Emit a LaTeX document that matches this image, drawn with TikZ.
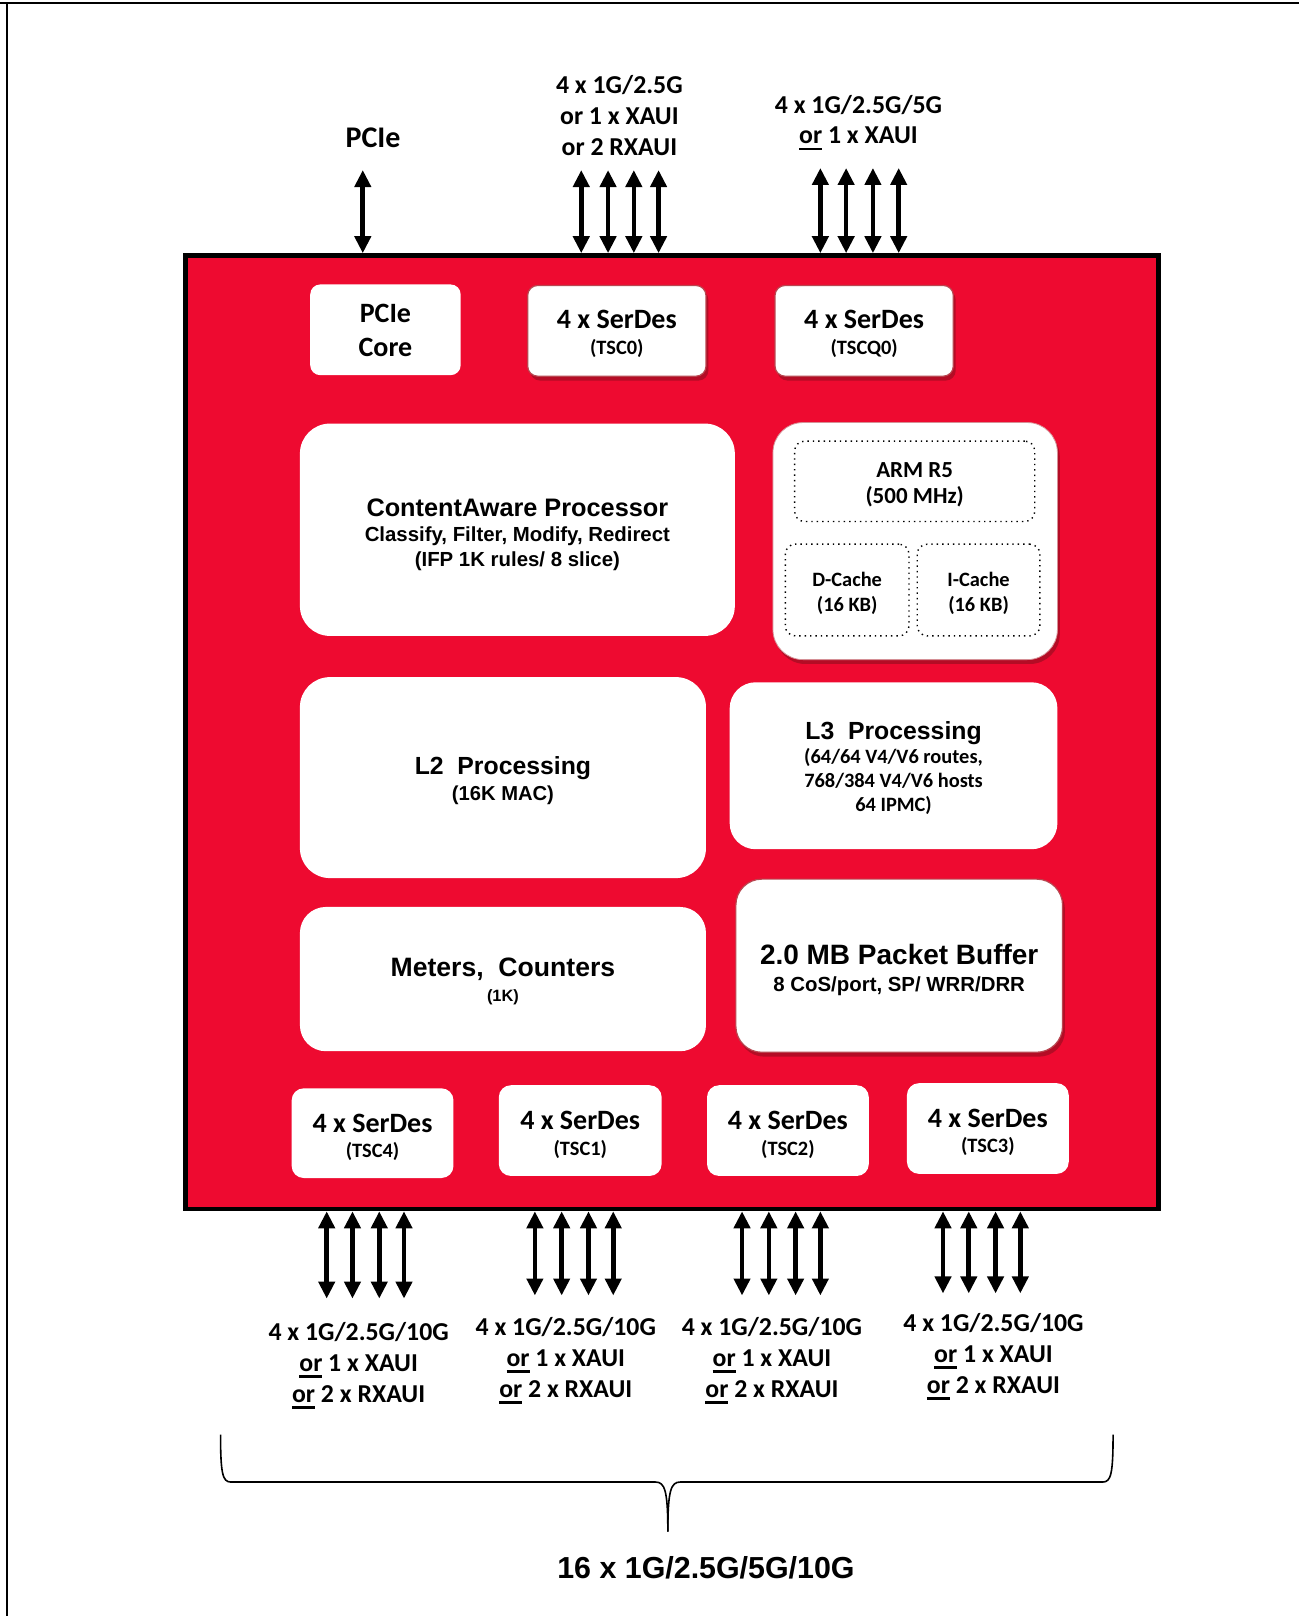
\documentclass[tikz,border=0pt]{standalone}
\usepackage{fontspec}
\setmainfont{Carlito}
\newfontfamily\arl{Liberation Sans}
\usetikzlibrary{arrows.meta,shadows}
\definecolor{chipred}{RGB}{238,10,48}
\definecolor{shadowred}{RGB}{110,15,25}
\definecolor{edgered}{RGB}{185,70,80}
\newcommand\setfs[2]{\fontsize{#1}{#2}\selectfont}
% underlined "or" with a heavier rule than \underline gives
\newcommand\orul{\leavevmode\setbox0\hbox{or}\rlap{\rule[-3.2pt]{\wd0}{1.2pt}}\box0}
% first line of a block with extra room above it, to sit the text a bit lower
\newcommand\dn[2][3pt]{\raisebox{0pt}[\dimexpr\height+#1\relax]{#2}}

\begin{document}
\begin{tikzpicture}[x=0.5155pt,y=-0.5155pt,
  sz/.style 2 args={minimum width=#1*0.5155pt, minimum height=#2*0.5155pt},
  wbox/.style={fill=white, draw=none, rounded corners=#1, inner sep=0pt, align=center},
  wbox/.default=5pt,
  shbox/.style={wbox=#1, draw=edgered, line width=0.6pt,
    drop shadow={shadow xshift=1.2pt, shadow yshift=-2.2pt, fill=shadowred, opacity=0.45}},
  shbox/.default=5pt,
  dotbox/.style={fill=white, draw=black, dotted, line width=0.7pt, rounded corners=5pt,
    inner sep=0pt, align=center},
  lbl/.style={align=center, inner sep=0pt, font={\bfseries\setfs{12.9}{15.5}}},
  serdes/.style={font={\bfseries\setfs{10.2}{12.8}}},
  conn/.style={line width=2.3pt,
    {Triangle[width=8pt,length=8.5pt]}-{Triangle[width=8pt,length=8.5pt]}},
]
\useasboundingbox (0,0) rectangle (1260,1568);
\fill[white] (0,0) rectangle (1260,1568);

% page frame (top and left edges only)
\draw[line width=1.1pt] (0,3) -- (1260,3);
\draw[line width=1.1pt] (7,3) -- (7,1568);

% chip outline
\node[draw=black, line width=2.4pt, fill=chipred, inner sep=0pt, sz={944}{925}] (chip) at (652,710.5) {};

% top row blocks
\node[wbox=5pt, sz={146}{88}, font={\bfseries\setfs{14}{17}}] (pciecore) at (374,320) {\dn[1pt]{PCIe}\\Core};
\node[shbox, sz={173}{88}, serdes] (tsc0) at (598.5,321) {\dn{\setfs{14}{15}4 x SerDes}\\(TSC0)};
\node[shbox, sz={173}{88}, serdes] (tscq0) at (838.5,321) {\dn{\setfs{14}{15}4 x SerDes}\\(TSCQ0)};

% ContentAware processor
\node[wbox=15pt, sz={422}{206}, font={\arl\bfseries\setfs{10.2}{12.4}}] (cap) at (502,514)
  {\dn[5pt]{\setfs{12.65}{14}ContentAware Processor}\\Classify, Filter, Modify, Redirect\\(IFP 1K rules/ 8 slice)};

% ARM subsystem
\node[shbox=15pt, sz={276}{230}, draw=edgered!60, line width=0.4pt] (arm) at (888,525) {};
\node[dotbox, sz={233}{78}, font={\bfseries\setfs{11.5}{13.4}}] (armcore) at (887.5,467) {\dn[3.5pt]{ARM R5}\\(500 MHz)};
\node[dotbox, sz={120}{89}, font={\bfseries\setfs{10.2}{12.4}}] (dcache) at (822,572.5) {\dn{D-Cache}\\(16 KB)};
\node[dotbox, sz={119}{89}, font={\bfseries\setfs{10.2}{12.4}}] (icache) at (949.5,572.5) {\dn{I-Cache}\\(16 KB)};

% forwarding blocks
\node[wbox=15pt, sz={394}{195}, font={\arl\bfseries\setfs{10.1}{12.6}}] (l2) at (488,754.5)
  {\dn{\setfs{12.4}{14}L2\ \ Processing}\\(16K MAC)};
\node[wbox=13pt, sz={318}{162}, font={\bfseries\setfs{10.2}{11.9}}] (l3) at (867,743)
  {\dn[2.5pt]{\arl\setfs{12.4}{14}L3\ \ Processing}\\[0.2pt](64/64 V4/V6 routes,\\768/384 V4/V6 hosts\\64 IPMC)};
\node[wbox=13pt, sz={394}{140}, font={\arl\bfseries\setfs{8.2}{12.3}}] (meters) at (488,950)
  {\dn[2.5pt]{\setfs{13.3}{14}Meters,\ \ Counters}\\(1K)};
\node[shbox=13pt, sz={317}{168}, font={\arl\bfseries\setfs{10.2}{13.6}}] (buffer) at (872.5,937)
  {\dn[4.5pt]{\setfs{14}{15}2.0 MB Packet Buffer}\\8 CoS/port, SP/ WRR/DRR};

% bottom SerDes blocks
\node[wbox=6pt, sz={157}{87}, serdes] (tsc4) at (361.5,1099.5) {\dn[4pt]{\setfs{14}{15}4 x SerDes}\\(TSC4)};
\node[wbox=6pt, sz={158}{88}, serdes] (tsc1) at (563,1097) {\dn[4pt]{\setfs{14}{15}4 x SerDes}\\(TSC1)};
\node[wbox=6pt, sz={157}{88}, serdes] (tsc2) at (764.5,1097) {\dn[4pt]{\setfs{14}{15}4 x SerDes}\\(TSC2)};
\node[wbox=6pt, sz={157}{88}, serdes] (tsc3) at (958.5,1095) {\dn[4pt]{\setfs{14}{15}4 x SerDes}\\(TSC3)};

% top interfaces
\coordinate (pcieend) at (352,165);
\draw[conn] (pcieend) -- (pcieend |- chip.north);
\foreach \x [count=\i] in {564,590,615,639} {
  \coordinate (ta\i) at (\x,165);
  \draw[conn] (ta\i) -- (ta\i |- chip.north);
}
\foreach \x [count=\i] in {796,821,847,872} {
  \coordinate (tb\i) at (\x,163);
  \draw[conn] (tb\i) -- (tb\i |- chip.north);
}
\node[lbl, font={\bfseries\setfs{15}{17}}] (pcielbl) at (362,134) {PCIe};
\node[lbl] (lbla) at (601,112) {4 x 1G/2.5G\\or 1 x XAUI\\or 2 RXAUI};
\node[lbl] (lblb) at (833,119) {4 x 1G/2.5G/5G\\\orul{} 1 x XAUI};

% bottom interfaces
\foreach \x [count=\i] in {317,342,368,392} {
  \coordinate (ba\i) at (\x,1260);
  \draw[conn] (ba\i |- chip.south) -- (ba\i);
}
\foreach \x [count=\i] in {519,545,571,595} {
  \coordinate (bb\i) at (\x,1257);
  \draw[conn] (bb\i |- chip.south) -- (bb\i);
}
\foreach \x [count=\i] in {720,746,772,796} {
  \coordinate (bc\i) at (\x,1257);
  \draw[conn] (bc\i |- chip.south) -- (bc\i);
}
\foreach \x [count=\i] in {915,940,966,990} {
  \coordinate (bd\i) at (\x,1255);
  \draw[conn] (bd\i |- chip.south) -- (bd\i);
}
\node[lbl] (lblc) at (348,1325) {4 x 1G/2.5G/10G\\\orul{} 1 x XAUI\\\orul{} 2 x RXAUI};
\node[lbl] (lbld) at (549,1320) {4 x 1G/2.5G/10G\\\orul{} 1 x XAUI\\\orul{} 2 x RXAUI};
\node[lbl] (lble) at (749,1320) {4 x 1G/2.5G/10G\\\orul{} 1 x XAUI\\\orul{} 2 x RXAUI};
\node[lbl] (lblf) at (964,1316) {4 x 1G/2.5G/10G\\\orul{} 1 x XAUI\\\orul{} 2 x RXAUI};

% grouping brace
\draw[line width=0.8pt]
  (214,1392) .. controls (214,1430) and (216,1438) .. (224,1438)
  -- (636,1438) .. controls (645,1438) and (648,1446) .. (648,1486);
\draw[line width=0.8pt]
  (1080,1392) .. controls (1080,1430) and (1078,1438) .. (1070,1438)
  -- (660,1438) .. controls (651,1438) and (648,1446) .. (648,1486);
\node[lbl, font={\arl\bfseries\setfs{15.2}{18}}] (total) at (685,1521) {16 x 1G/2.5G/5G/10G};
\end{tikzpicture}
\end{document}
